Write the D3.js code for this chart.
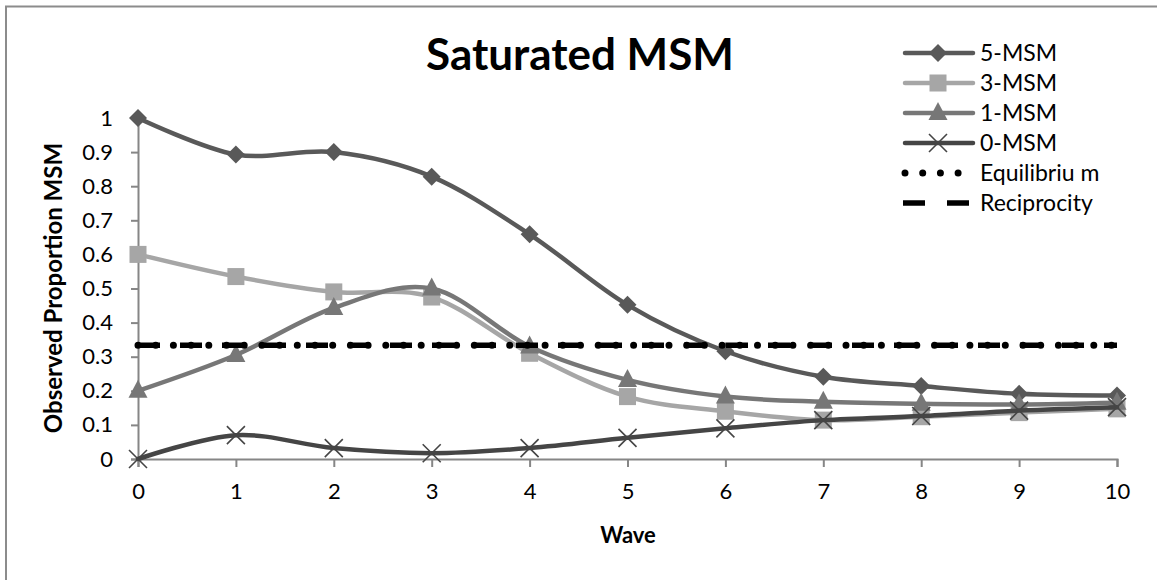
<!DOCTYPE html>
<html>
<head>
<meta charset="utf-8">
<script src="https://cdn.jsdelivr.net/npm/d3@7"></script>
<style>
  body { margin: 0; background: white; }
  text { font-family: Lato, "Open Sans", sans-serif; }
</style>
</head>
<body>
<svg id="chart" width="1157" height="580"></svg>
<script>
var waves = [0, 1, 2, 3, 4, 5, 6, 7, 8, 9, 10];
var msm5 = [1.0, 0.893, 0.9, 0.828, 0.659, 0.452, 0.316, 0.241, 0.214, 0.191, 0.186];
var msm3 = [0.6, 0.535, 0.49, 0.475, 0.31, 0.183, 0.14, 0.114, 0.124, 0.136, 0.147];
var msm1 = [0.2, 0.305, 0.443, 0.5, 0.33, 0.232, 0.183, 0.168, 0.162, 0.16, 0.165];
var msm0 = [0, 0.07, 0.032, 0.017, 0.032, 0.062, 0.09, 0.114, 0.126, 0.142, 0.152];
var equilibrium = [1/3, 1/3];
var reciprocity = [1/3, 1/3];
var yTicks = [0, 0.1, 0.2, 0.3, 0.4, 0.5, 0.6, 0.7, 0.8, 0.9, 1];
var legendNames = ["5-MSM", "3-MSM", "1-MSM", "0-MSM", "Equilibriu m", "Reciprocity"];

var svg = d3.select("#chart");

// outer chart border (only top and left edges show)
svg.append("rect")
  .attr("x", 6).attr("y", 6.5)
  .attr("width", 1300).attr("height", 700)
  .attr("fill", "none")
  .attr("stroke", "#8c8c8c")
  .attr("stroke-width", 2);

var x = d3.scaleLinear().domain([0, 10]).range([138, 1117]);
var y = d3.scaleLinear().domain([0, 1]).range([459, 118]);

// axes
var xAxis = svg.append("g")
  .attr("transform", "translate(0," + y(0) + ")")
  .call(d3.axisBottom(x).tickValues(waves).tickSize(8).tickPadding(16).tickFormat(d3.format("d")));
var yAxis = svg.append("g")
  .attr("transform", "translate(" + x(0) + ",0)")
  .call(d3.axisLeft(y).tickValues(yTicks).tickSize(7).tickPadding(18).tickFormat(function(d) { return d === 0 ? "0" : d === 1 ? "1" : d3.format(".1f")(d); }));

[xAxis, yAxis].forEach(function(a) {
  a.select(".domain").attr("stroke", "#868686").attr("stroke-width", 2);
  a.selectAll(".tick line").attr("stroke", "#868686").attr("stroke-width", 2);
  a.selectAll(".tick text").attr("fill", "black").style("font-size", "22px").style("font-family", "Lato, sans-serif");
});

// titles
svg.append("text")
  .attr("x", 580).attr("y", 70)
  .attr("text-anchor", "middle")
  .style("font-size", "44px").style("font-weight", "bold")
  .text("Saturated MSM");

svg.append("text")
  .attr("x", 628).attr("y", 543)
  .attr("text-anchor", "middle")
  .style("font-size", "22px").style("font-weight", "bold")
  .text("Wave");

svg.append("text")
  .attr("transform", "translate(62,288) rotate(-90)")
  .attr("text-anchor", "middle")
  .style("font-size", "24px").style("font-weight", "bold")
  .text("Observed Proportion MSM");

var line = d3.line()
  .x(function(d, i) { return x(waves[i]); })
  .y(function(d) { return y(d); })
  .curve(d3.curveCatmullRom.alpha(0));

var series = [
  { name: "5-MSM", values: msm5, color: "#595959", marker: "diamond" },
  { name: "3-MSM", values: msm3, color: "#a6a6a6", marker: "square" },
  { name: "1-MSM", values: msm1, color: "#777777", marker: "triangle" },
  { name: "0-MSM", values: msm0, color: "#454545", marker: "cross" }
];

function drawMarker(g, type, cx, cy, color) {
  if (type == "diamond") {
    g.append("path").attr("d", "M0,-9L9,0L0,9L-9,0Z")
      .attr("transform", "translate(" + cx + "," + cy + ")").attr("fill", color);
  } else if (type == "square") {
    g.append("rect").attr("x", cx - 8.5).attr("y", cy - 8.5)
      .attr("width", 17).attr("height", 17).attr("fill", color);
  } else if (type == "triangle") {
    g.append("path").attr("d", "M0,-11L9.5,7L-9.5,7Z")
      .attr("transform", "translate(" + cx + "," + cy + ")").attr("fill", color);
  } else {
    g.append("path").attr("d", "M-9,-9L9,9M9,-9L-9,9")
      .attr("transform", "translate(" + cx + "," + cy + ")")
      .attr("stroke", color).attr("stroke-width", 1.6).attr("fill", "none");
  }
}

series.forEach(function(s) {
  var g = svg.append("g");
  g.append("path")
    .attr("d", line(s.values))
    .attr("fill", "none")
    .attr("stroke", s.color)
    .attr("stroke-width", 4.5)
    .attr("stroke-linecap", "round");
  s.values.forEach(function(v, i) {
    drawMarker(g, s.marker, x(waves[i]), y(v), s.color);
  });
});

// flat reference lines
var flat = d3.line()
  .x(function(d, i) { return x(i === 0 ? 0 : 10); })
  .y(function(d) { return y(d); });

svg.append("path")
  .attr("d", flat(equilibrium))
  .attr("fill", "none").attr("stroke", "black")
  .attr("stroke-width", 7).attr("stroke-linecap", "round")
  .attr("stroke-dasharray", "0 17.7");

svg.append("path")
  .attr("d", flat(reciprocity))
  .attr("fill", "none").attr("stroke", "black")
  .attr("stroke-width", 5.5)
  .attr("stroke-dasharray", "22 20");

// legend
var legend = svg.append("g");
legendNames.forEach(function(name, i) {
  var ly = 53 + i * 30;
  var row = legend.append("g");
  if (i < 4) {
    row.append("line").attr("x1", 905).attr("x2", 973).attr("y1", ly).attr("y2", ly)
      .attr("stroke", series[i].color).attr("stroke-width", 4.5).attr("stroke-linecap", "round");
    drawMarker(row, series[i].marker, 938, ly, series[i].color);
  } else if (i == 4) {
    row.append("line").attr("x1", 905).attr("x2", 962).attr("y1", ly).attr("y2", ly)
      .attr("stroke", "black").attr("stroke-width", 7).attr("stroke-linecap", "round")
      .attr("stroke-dasharray", "0 17.7");
  } else {
    row.append("line").attr("x1", 903).attr("x2", 969).attr("y1", ly).attr("y2", ly)
      .attr("stroke", "black").attr("stroke-width", 5.5)
      .attr("stroke-dasharray", "22 22");
  }
  row.append("text")
    .attr("x", 980).attr("y", ly + 8)
    .style("font-size", "23px")
    .text(name);
});
</script>
</body>
</html>
